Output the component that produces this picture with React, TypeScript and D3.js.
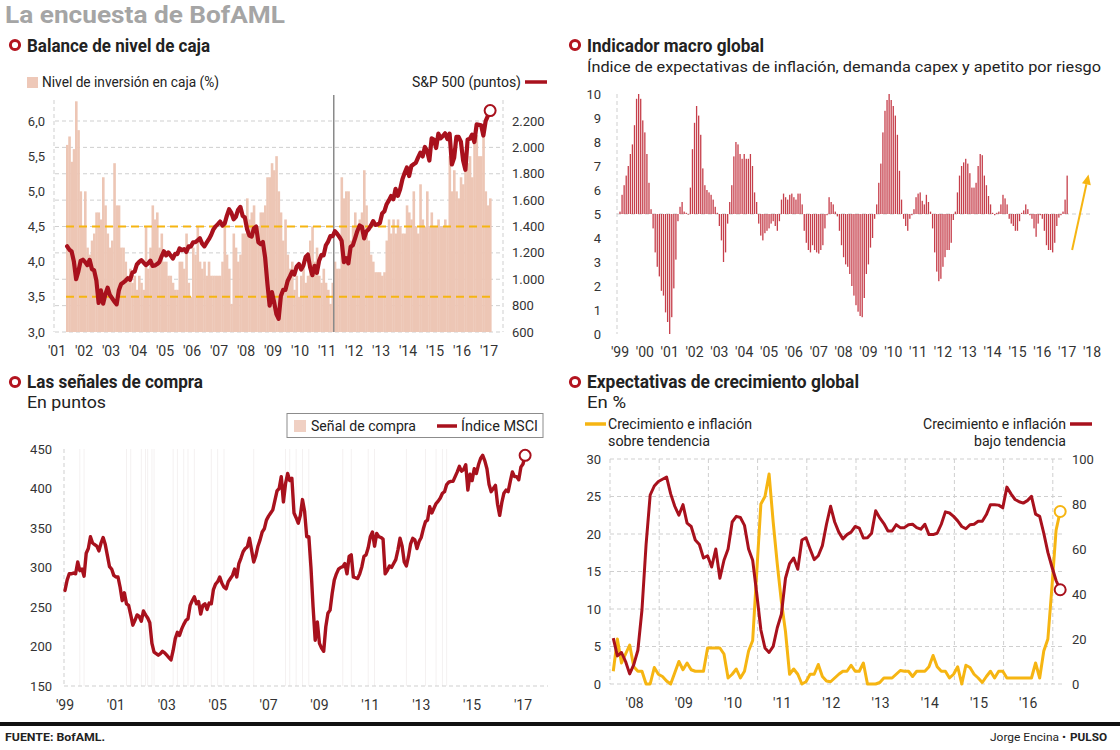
import React from 'react';
import * as d3 from 'd3';

// ---------------- Panel 1: Balance de nivel de caja ----------------
const cashFirstMonth = 4; // months after Jan 2001 (May 2001)
const cashLevels = [
  5.66, 5.78, 5.42, 5.6, 6.28, 5.87, 5.0, 4.5,
  5.0, 4.2, 4.1, 4.3, 4.4, 4.7, 4.7, 4.6, 5.2, 4.8, 4.4, 4.2,
  4.3, 5.4, 4.8, 4.8, 4.2, 4.2, 4.0, 3.8, 3.9, 3.7, 3.8, 3.6,
  3.8, 3.7, 3.6, 4.5, 3.9, 4.2, 4.8, 4.6, 4.7, 4.2, 4.4, 4.0,
  4.0, 3.8, 3.8, 3.7, 3.6, 3.6, 4.0, 4.0, 3.9, 4.4, 3.7, 3.5,
  4.2, 4.1, 4.5, 4.0, 3.9, 4.0, 3.8, 4.0, 3.8, 3.8, 3.8, 3.8,
  3.8, 4.0, 4.5, 4.1, 3.9, 3.4, 4.4, 4.2, 4.0, 4.1, 4.4, 4.4,
  4.9, 4.6, 4.7, 4.8, 4.4, 4.5, 4.7, 4.7, 4.8, 5.2, 5.2, 5.4,
  5.3, 5.5, 5.0, 4.7, 4.3, 4.6, 4.1, 3.9, 4.0, 3.6, 3.8, 3.5,
  3.8, 4.0, 3.7, 3.8, 4.3, 4.5, 4.0, 4.2, 3.8, 3.7, 3.9, 3.7,
  3.6, 3.4, 3.7, 4.0, 3.9, 3.9, 5.2, 4.9, 5.0, 5.0, 4.3, 4.5,
  4.7, 4.5, 4.6, 4.7, 5.3, 4.8, 4.3, 4.1, 4.0, 3.85, 3.85, 3.85,
  3.8, 3.85, 4.3, 4.6, 4.4, 4.6, 4.4, 4.6, 4.5, 4.4, 4.4, 4.8,
  4.7, 4.6, 5.0, 4.5, 4.4, 5.1, 4.6, 4.5, 5.0, 4.5, 4.7, 4.5,
  4.5, 4.6, 4.5, 4.5, 4.6, 4.5, 5.5, 5.0, 5.3, 5.0, 4.9, 5.2,
  5.1, 5.4, 5.4, 5.5, 5.2, 5.7, 5.8, 5.5, 5.5, 5.8, 5.0, 4.8,
  4.9,
];
const sp500 = [
  1250, 1224, 1211, 1134, 1000, 1060, 1139, 1148,
  1130, 1107, 1147, 1077, 1067, 990, 820, 916, 815, 886, 936, 880,
  856, 830, 810, 917, 964, 975, 990, 1008, 996, 1051, 1058, 1112,
  1131, 1145, 1126, 1107, 1121, 1141, 1101, 1104, 1115, 1130, 1174, 1212,
  1181, 1204, 1181, 1157, 1192, 1191, 1234, 1220, 1229, 1207, 1249, 1248,
  1280, 1281, 1295, 1311, 1270, 1250, 1277, 1304, 1336, 1378, 1401, 1418,
  1438, 1407, 1421, 1482, 1531, 1503, 1455, 1474, 1527, 1549, 1481, 1468,
  1379, 1331, 1323, 1386, 1400, 1280, 1267, 1283, 1165, 969, 800, 903,
  826, 735, 700, 873, 919, 919, 987, 1021, 1057, 1036, 1096, 1115,
  1074, 1104, 1169, 1187, 1089, 1031, 1102, 1049, 1141, 1183, 1181, 1258,
  1286, 1327, 1326, 1364, 1345, 1321, 1292, 1130, 1160, 1120, 1247, 1258,
  1312, 1366, 1408, 1398, 1310, 1362, 1379, 1407, 1441, 1412, 1416, 1426,
  1498, 1515, 1569, 1598, 1631, 1606, 1686, 1633, 1682, 1757, 1806, 1848,
  1783, 1859, 1872, 1884, 1924, 1960, 1931, 2003, 1972, 1900, 2068, 2059,
  1995, 2105, 2068, 2086, 2107, 2063, 2104, 1870, 1920, 2079, 2080, 2044,
  1900, 1830, 2060, 2065, 2097, 2040, 2174, 2171, 2168, 2090, 2199, 2239,
  2279,
];
const cashYears = d3.range(2001, 2018);
const cashLeftTicks = [3.0, 3.5, 4.0, 4.5, 5.0, 5.5, 6.0];
const cashRightTicks = [600, 800, 1000, 1200, 1400, 1600, 1800, 2000, 2200];
const cashBands = [3.5, 4.5];
const cashBreak = 2011.25;

// ---------------- Panel 2: Indicador macro global ----------------
const macroIndex = [
  5.1, 5.8, 6.2, 6.6, 7.0, 7.5, 7.9, 8.7, 9.8, 10.0, 9.8, 8.9,
  8.4, 7.5, 6.3, 5.2, 4.4, 3.4, 2.8, 2.4, 1.8, 1.6, 0.9, 0.5,
  0.0, 0.7, 1.9, 3.1, 4.7, 5.3, 5.5, 5.1, 5.05, 5.0, 6.1, 7.7,
  8.8, 9.5, 9.1, 8.3, 6.9, 6.2, 6.0, 5.9, 5.8, 5.6, 5.3, 5.05,
  4.5, 3.9, 3.0, 3.4, 4.6, 5.5, 6.2, 7.4, 8.0, 7.9, 7.5, 7.3,
  7.5, 7.3, 7.3, 7.5, 7.0, 5.9, 5.5, 4.6, 4.1, 3.9, 4.2, 4.3,
  4.4, 4.6, 4.7, 4.5, 4.3, 4.7, 5.6, 5.85, 5.7, 5.6, 5.8, 5.85,
  5.7, 5.6, 5.85, 5.85, 5.4, 4.3, 3.8, 3.5, 3.4, 3.7, 3.5, 3.4,
  3.35, 3.5, 3.7, 4.4, 4.95, 5.7, 5.5, 5.4, 5.1, 4.9, 4.3, 3.7,
  3.2, 2.9, 2.8, 2.5, 2.0, 1.6, 1.2, 0.93, 0.75, 0.7, 1.5, 2.5,
  2.9, 3.6, 4.0, 4.8, 5.4, 6.3, 7.1, 8.4, 9.3, 9.75, 10.0, 9.75,
  9.5, 9.1, 8.3, 6.8, 5.6, 4.8, 4.5, 4.3, 4.8, 4.95, 5.2, 5.7,
  5.85, 5.9, 5.55, 5.4, 5.8, 5.5, 5.1, 4.4, 3.4, 2.6, 2.2, 2.3,
  2.8, 3.2, 3.5, 3.5, 3.8, 4.75, 5.1, 5.9, 6.6, 7.0, 7.15, 7.3,
  7.1, 6.7, 6.1, 6.1, 6.3, 7.0, 7.5, 7.45, 6.6, 6.2, 5.75, 5.4,
  5.05, 4.95, 5.05, 5.1, 5.4, 5.8, 5.65, 5.4, 4.8, 4.6, 4.5, 4.3,
  4.3, 4.7, 5.05, 5.15, 5.4, 5.2, 4.95, 4.8, 4.4, 4.05, 4.6, 4.95,
  4.8, 4.3, 3.7, 3.5, 3.5, 3.4, 3.8, 4.5, 4.85, 4.95, 5.1, 5.6,
  6.6,
];
const macroYears = d3.range(1999, 2019);
const macroTicks = d3.range(0, 11);

// ---------------- Panel 3: Las señales de compra ----------------
const msci = [
  271, 284, 292, 292, 293, 292, 307, 296, 298, 289, 318, 324,
  339, 331, 329, 327, 321, 331, 338, 329, 315, 301, 298, 290,
  288, 288, 275, 258, 268, 254, 252, 240, 227, 233, 240, 238,
  232, 245, 240, 236, 230, 204, 193, 191, 189, 191, 194, 192,
  189, 186, 183, 195, 210, 218, 214, 222, 228, 233, 235, 252,
  258, 263, 254, 257, 241, 252, 254, 247, 255, 254, 272, 279,
  282, 288, 280, 275, 273, 282, 286, 290, 298, 288, 305, 312,
  320, 324, 326, 337, 322, 307, 315, 327, 335, 345, 349, 360,
  365, 369, 373, 385, 397, 400, 415, 383, 406, 419, 410, 413,
  369, 363, 356, 366, 386, 371, 339, 339, 300, 250, 208, 231,
  204, 198, 194, 225, 242, 246, 267, 284, 292, 298, 300, 301,
  305, 292, 314, 316, 288, 287, 286, 292, 301, 314, 316, 325,
  339, 345, 327, 343, 339, 338, 336, 292, 296, 302, 300, 305,
  310, 322, 337, 327, 307, 302, 314, 330, 337, 335, 324, 333,
  338, 349, 358, 360, 377, 369, 375, 381, 384, 388, 394, 396,
  405, 408, 409, 409, 415, 421, 428, 422, 424, 430, 398, 418,
  410, 425, 419, 430, 438, 442, 435, 425, 405, 396, 400, 404,
  380, 366, 382, 394, 398, 396, 409, 421, 415, 415, 411, 427,
  431, 442,
];
const buySignalMonths = [7, 9, 29, 31, 36, 38, 39, 41, 42, 51, 53, 56, 58, 61, 69, 72, 75, 89, 104, 106, 109, 112, 115, 131, 135, 143, 146, 161, 170, 175, 178, 180];
const msciYears = [1999, 2001, 2003, 2005, 2007, 2009, 2011, 2013, 2015, 2017];
const msciTicks = [150, 200, 250, 300, 350, 400, 450];

// ---------------- Panel 4: Expectativas de crecimiento global ----------------
const growthAbove = [
  1.7, 6.0, 2.8, 4.0, 5.2, 2.3, 1.7, 1.7, 0, 0,
  2.2, 1.3, 1.0, 0.4, 0, 1.5, 3.0, 1.9, 2.8, 1.9,
  1.7, 1.7, 1.7, 4.8, 4.8, 4.8, 4.8, 4.0, 0.8, 1.3,
  2.0, 0.8, 1.7, 4.4, 5.8, 15, 24, 25, 28, 21.6,
  16, 11, 7.0, 1.3, 2.0, 1.3, 0, 0.3, 1.3, 1.3,
  2.6, 1.0, 0.4, 0.3, 0.8, 1.3, 1.7, 1.7, 2.5, 1.7,
  1.7, 2.8, 0, 0, 0, 0.2, 0.8, 0.8, 0.8, 1.3,
  1.8, 1.7, 1.7, 1.0, 1.7, 1.7, 1.7, 2.3, 3.8, 2.3,
  1.7, 1.7, 0.8, 1.3, 2.3, 0, 2.5, 2.2, 1.3, 0.8,
  0.2, 1.0, 1.7, 0.8, 1.7, 1.7, 0.8, 0.8, 0.8, 0.8,
  0.8, 0.8, 0.8, 2.8, 0.8, 4.4, 6.0, 13, 20.5, 23,
];
const growthBelow = [
  20.4, 12.5, 14, 10, 4.5, 8.6, 15, 33, 62, 84,
  88, 90, 91, 92, 84.5, 79, 75, 79.7, 71.5, 70,
  64, 62, 56, 57, 52, 60, 47, 55, 60, 72,
  74.5, 74, 70.5, 60, 55, 40, 24, 16, 14, 16.7,
  25, 31, 47, 53.5, 56, 51, 64, 65, 60, 55.3,
  57, 61.5, 71, 79, 72, 67.5, 64.5, 66.4, 67.5, 70,
  69.3, 64.9, 65, 67, 77, 73.8, 71.3, 68, 68, 70.8,
  69.5, 69.5, 70.8, 71, 69.5, 68.8, 71, 66.4, 66.4, 67,
  71, 76.5, 76, 74.5, 72.5, 70, 69, 70.8, 71, 72.3,
  72.3, 75.3, 79.7, 79.7, 79.5, 78.3, 87.5, 84.5, 82, 81,
  80.4, 81.5, 83.4, 75.5, 74.5, 67, 58.5, 52, 46, 41.9,
];
const growthYears = d3.range(2008, 2017);
const growthGridYears = d3.range(2008, 2018);
const growthLeftTicks = [0, 5, 10, 15, 20, 25, 30];
const growthRightTicks = [0, 20, 40, 60, 80, 100];

// ---------------- styles ----------------
const FONT = "Roboto, 'Liberation Sans', Arial, sans-serif";
const RED = '#a8111d';
const YELLOW = '#f6b512';
const GRID = '#cfcfcf';
const AXIS_TXT = '#333';
const yy = (y: number) => "'" + String(y % 100).padStart(2, '0');

type TP = {
  x: number; y: number; children: React.ReactNode; size?: number; weight?: number;
  anchor?: 'start' | 'middle' | 'end'; fill?: string; len?: number; dy?: string;
};
function T({ x, y, children, size = 14, weight = 400, anchor = 'start', fill = '#222', len, dy }: TP) {
  return (
    <text x={x} y={y} dy={dy} fontFamily={FONT} fontSize={size} fontWeight={weight} textAnchor={anchor} fill={fill}
      textLength={len} lengthAdjust={len ? 'spacingAndGlyphs' : undefined}>
      {children}
    </text>
  );
}

function Bullet({ x, y }: { x: number; y: number }) {
  return <circle cx={x} cy={y} r={4.6} fill="#fff" stroke="#b3141f" strokeWidth={3} />;
}

function PanelCash() {
  const x = d3.scaleLinear().domain([2001, 2017]).range([57, 489]);
  const yL = d3.scaleLinear().domain([3, 6]).range([332, 121]);
  const yR = d3.scaleLinear().domain([600, 2200]).range([332, 121]);
  const tOf = (i: number) => 2001 + (cashFirstMonth + i) / 12;
  const line = d3.line<number>().x((_, i) => x(tOf(i) + 1 / 24)).y((v) => yR(v)).curve(d3.curveLinear);
  const last = sp500.length - 1;
  const bandX0 = x(tOf(0));
  const bandX1 = x(tOf(cashLevels.length));
  return (
    <g>
      <Bullet x={15} y={45} />
      <T x={27} y={52} size={17.5} weight={700} len={183}>Balance de nivel de caja</T>
      <rect x={27} y={77} width={11} height={11} fill="#eec8b8" />
      <T x={42} y={87} size={14} len={177}>Nivel de inversión en caja (%)</T>
      <T x={521} y={87} size={14} anchor="end" len={109}>S&amp;P 500 (puntos)</T>
      <line x1={525} x2={547} y1={82} y2={82} stroke={RED} strokeWidth={3.5} />
      {cashRightTicks.map((t) => (
        <line key={t} x1={55} x2={503} y1={yR(t)} y2={yR(t)} stroke={GRID} strokeDasharray="4,3" />
      ))}
      <line x1={54} x2={54} y1={100} y2={332} stroke={GRID} strokeDasharray="4,3" />
      <line x1={503} x2={503} y1={100} y2={332} stroke={GRID} strokeDasharray="4,3" />
      {cashLevels.map((v, i) => {
        const x0 = x(tOf(i));
        const x1 = x(tOf(i + 1));
        return <rect key={i} x={x0} y={yL(v)} width={x1 - x0 + 0.35} height={yL(3) - yL(v)} fill="#edc6b5" />;
      })}
      {cashBands.map((b) => (
        <line key={b} x1={bandX0} x2={bandX1} y1={yL(b)} y2={yL(b)} stroke={YELLOW} strokeWidth={2} strokeDasharray="8,5" />
      ))}
      <line x1={x(cashBreak)} x2={x(cashBreak)} y1={95} y2={332} stroke="#8a8a8a" strokeWidth={1.5} />
      <path d={line(sp500) || ''} fill="none" stroke={RED} strokeWidth={4.2} strokeLinejoin="round" strokeLinecap="round" />
      <circle cx={x(tOf(last) + 1 / 24)} cy={yR(sp500[last])} r={5.5} fill="#fff" stroke={RED} strokeWidth={2} />
      {cashLeftTicks.map((t) => (
        <T key={t} x={45} y={yL(t)} dy="0.35em" size={13} anchor="end" fill={AXIS_TXT}>{t.toFixed(1).replace('.', ',')}</T>
      ))}
      {cashRightTicks.map((t) => (
        <T key={t} x={512} y={yR(t)} dy="0.35em" size={13} fill={AXIS_TXT}>{d3.format(',')(t).replace(/,/g, '.')}</T>
      ))}
      {cashYears.map((yv) => (
        <T key={yv} x={x(yv)} y={356} size={14} anchor="middle" fill={AXIS_TXT}>{yy(yv)}</T>
      ))}
    </g>
  );
}

function PanelMacro() {
  const x = d3.scaleLinear().domain([1999, 2018]).range([620, 1092]);
  const y = d3.scaleLinear().domain([0, 10]).range([334, 94]);
  const base = y(5);
  const a0 = [x(2017.2), y(3.5)];
  const a1 = [x(2017.86), y(6.65)];
  const ang = Math.atan2(a1[1] - a0[1], a1[0] - a0[0]);
  const hl = 10, hw = 4.5;
  const bx = a1[0] - hl * Math.cos(ang), by = a1[1] - hl * Math.sin(ang);
  const head = [
    [a1[0], a1[1]],
    [bx + hw * Math.sin(ang), by - hw * Math.cos(ang)],
    [bx - hw * Math.sin(ang), by + hw * Math.cos(ang)],
  ].map((p) => p.join(',')).join(' ');
  return (
    <g>
      <Bullet x={575} y={45} />
      <T x={587} y={52} size={17.5} weight={700} len={177}>Indicador macro global</T>
      <T x={587} y={72} size={15.5} len={514}>Índice de expectativas de inflación, demanda capex y apetito por riesgo</T>
      <line x1={617} x2={617} y1={94} y2={334} stroke={GRID} strokeDasharray="4,3" />
      <line x1={617} x2={1092} y1={base} y2={base} stroke={GRID} strokeDasharray="4,3" />
      {macroIndex.map((v, i) => {
        const cx = x(1999 + i / 12);
        const top = Math.min(y(v), base);
        const h = Math.max(Math.abs(y(v) - base), 0.6);
        return <rect key={i} x={cx - 0.65} y={top} width={1.3} height={h} fill="#c63f4b" />;
      })}
      <line x1={a0[0]} y1={a0[1]} x2={bx} y2={by} stroke={YELLOW} strokeWidth={2} />
      <polygon points={head} fill={YELLOW} />
      {macroTicks.map((t) => (
        <T key={t} x={601} y={y(t)} dy="0.35em" size={13} anchor="end" fill={AXIS_TXT}>{t}</T>
      ))}
      {macroYears.map((yv) => (
        <T key={yv} x={x(yv)} y={357} size={14} anchor="middle" fill={AXIS_TXT}>{yy(yv)}</T>
      ))}
    </g>
  );
}

function PanelMsci() {
  const x = d3.scaleLinear().domain([1999, 2017]).range([65, 523]);
  const y = d3.scaleLinear().domain([150, 450]).range([686, 449]);
  const tOf = (i: number) => 1999 + i / 12;
  const line = d3.line<number>().x((_, i) => x(tOf(i))).y((v) => y(v));
  const last = msci.length - 1;
  return (
    <g>
      <Bullet x={15} y={382} />
      <T x={27} y={388} size={17.5} weight={700} len={176}>Las señales de compra</T>
      <T x={27} y={408} size={17} len={79}>En puntos</T>
      <rect x={287} y={413.5} width={256} height={24} fill="#fff" stroke="#8c8c8c" strokeWidth={1} />
      <rect x={294} y={420} width={12} height={12} fill="#f0d0c3" />
      <T x={311} y={431} size={14.5} len={105}>Señal de compra</T>
      <line x1={437} x2={457} y1={426} y2={426} stroke={RED} strokeWidth={3.5} />
      <T x={461} y={431} size={14.5} len={77}>Índice MSCI</T>
      {buySignalMonths.map((m) => (
        <line key={m} x1={x(tOf(m))} x2={x(tOf(m))} y1={449} y2={686} stroke="#f4f1f1" strokeWidth={1} />
      ))}
      <line x1={64} x2={64} y1={449} y2={686} stroke={GRID} strokeDasharray="4,3" />
      <line x1={64} x2={548} y1={686} y2={686} stroke={GRID} strokeDasharray="4,3" />
      <path d={line(msci) || ''} fill="none" stroke={RED} strokeWidth={3.4} strokeLinejoin="round" strokeLinecap="round" />
      <circle cx={x(tOf(last))} cy={y(msci[last])} r={5.5} fill="#fff" stroke={RED} strokeWidth={2} />
      {msciTicks.map((t) => (
        <T key={t} x={52} y={y(t)} dy="0.35em" size={13} anchor="end" fill={AXIS_TXT}>{t}</T>
      ))}
      {msciYears.map((yv) => (
        <T key={yv} x={x(yv)} y={710} size={14} anchor="middle" fill={AXIS_TXT}>{yy(yv)}</T>
      ))}
    </g>
  );
}

function PanelGrowth() {
  const x = d3.scaleLinear().domain([2008, 2017]).range([610, 1052.8]);
  const yL = d3.scaleLinear().domain([0, 30]).range([684, 459]);
  const yR = d3.scaleLinear().domain([0, 100]).range([684, 459]);
  const tOf = (i: number) => 2008 + (i + 0.8) / 12;
  const lineL = d3.line<number>().x((_, i) => x(tOf(i))).y((v) => yL(v));
  const lineR = d3.line<number>().x((_, i) => x(tOf(i))).y((v) => yR(v));
  const lastA = growthAbove.length - 1;
  const lastB = growthBelow.length - 1;
  return (
    <g>
      <Bullet x={575} y={382} />
      <T x={587} y={388} size={17.5} weight={700} len={272}>Expectativas de crecimiento global</T>
      <T x={587} y={408} size={17} len={39}>En %</T>
      <line x1={585} x2={606} y1={424} y2={424} stroke={YELLOW} strokeWidth={3.5} />
      <T x={608} y={428.5} size={14.5} len={144}>Crecimiento e inflación</T>
      <T x={608} y={446} size={14.5} len={102}>sobre tendencia</T>
      <T x={1066} y={428.5} size={14.5} anchor="end" len={143}>Crecimiento e inflación</T>
      <T x={1066} y={446} size={14.5} anchor="end" len={92}>bajo tendencia</T>
      <line x1={1070} x2={1092} y1={424} y2={424} stroke={RED} strokeWidth={3.5} />
      {growthLeftTicks.map((t) => (
        <line key={t} x1={610} x2={1065} y1={yL(t)} y2={yL(t)} stroke={GRID} strokeDasharray="4,3" />
      ))}
      {growthGridYears.map((yv) => (
        <line key={yv} x1={x(yv)} x2={x(yv)} y1={459} y2={684} stroke={GRID} strokeDasharray="4,3" />
      ))}
      <path d={lineL(growthAbove) || ''} fill="none" stroke={YELLOW} strokeWidth={3} strokeLinejoin="round" />
      <path d={lineR(growthBelow) || ''} fill="none" stroke={RED} strokeWidth={3} strokeLinejoin="round" />
      <circle cx={x(tOf(lastA))} cy={yL(growthAbove[lastA])} r={5.5} fill="#fff" stroke={YELLOW} strokeWidth={2} />
      <circle cx={x(tOf(lastB))} cy={yR(growthBelow[lastB])} r={5.5} fill="#fff" stroke={RED} strokeWidth={2} />
      {growthLeftTicks.map((t) => (
        <T key={t} x={601} y={yL(t)} dy="0.35em" size={13} anchor="end" fill={AXIS_TXT}>{t}</T>
      ))}
      {growthRightTicks.map((t) => (
        <T key={t} x={1072} y={yR(t)} dy="0.35em" size={13} fill={AXIS_TXT}>{t}</T>
      ))}
      {growthYears.map((yv) => (
        <T key={yv} x={x(yv + 0.5)} y={708} size={14} anchor="middle" fill={AXIS_TXT}>{yy(yv)}</T>
      ))}
    </g>
  );
}

export default function App() {
  return (
    <svg width={1120} height={750} viewBox="0 0 1120 750"
      style={{ position: 'absolute', left: 0, top: 0, display: 'block', background: '#fff' }}>
      <rect x={0} y={0} width={1120} height={750} fill="#fff" />
      <T x={5} y={23} size={24} weight={700} fill="#a5a5a5" len={280}>La encuesta de BofAML</T>
      <PanelCash />
      <PanelMacro />
      <PanelMsci />
      <PanelGrowth />
      <rect x={0} y={722} width={1120} height={4} fill="#111" />
      <T x={5} y={741} size={11.5} weight={700} len={100}>FUENTE: BofAML.</T>
      <T x={1066} y={741} size={11.5} anchor="end" len={76}>Jorge Encina •</T>
      <T x={1107} y={741} size={11.5} weight={700} anchor="end" len={37}>PULSO</T>
    </svg>
  );
}
